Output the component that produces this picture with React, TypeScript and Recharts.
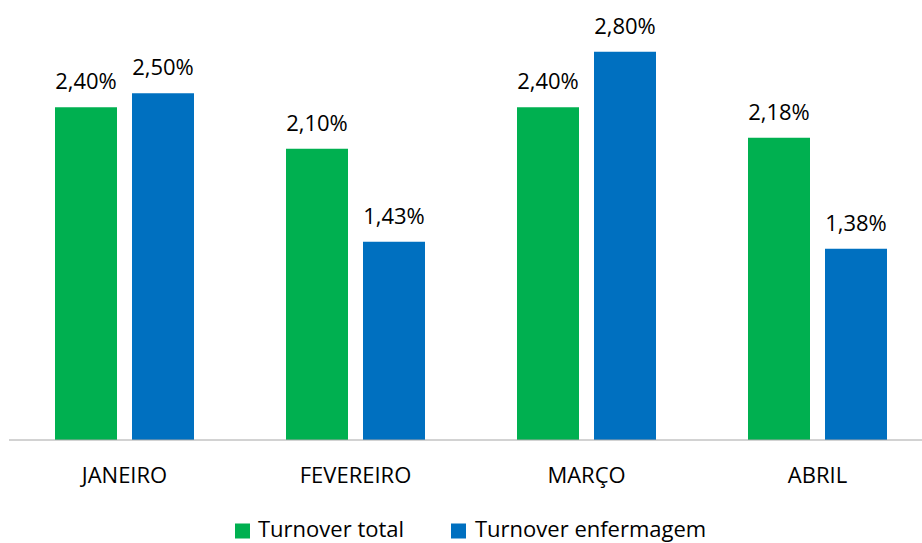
import React from 'react';
import { BarChart, Bar, XAxis, YAxis, LabelList, Legend } from 'recharts';

const months = ['JANEIRO', 'FEVEREIRO', 'MARÇO', 'ABRIL'];
const turnoverTotal = [2.4, 2.1, 2.4, 2.18];
const turnoverEnfermagem = [2.5, 1.43, 2.8, 1.38];
const seriesNames = ['Turnover total', 'Turnover enfermagem'];
const seriesColors = ['#00B050', '#0070C0'];

const data = months.map((m, i) => ({
  month: m,
  total: turnoverTotal[i],
  enf: turnoverEnfermagem[i],
}));

const FONT = '"Open Sans", "Noto Sans", sans-serif';

const fmt = (v: any) => Number(v).toFixed(2).replace('.', ',') + '%';

const LegendContent = () => (
  <svg width={914} height={30} style={{ display: 'block' }}>
    <rect x={227} y={10.5} width={15} height={15} fill={seriesColors[0]} />
    <text x={250} y={23.5} fontFamily={FONT} fontSize={22} fill="#000">{seriesNames[0]}</text>
    <rect x={443} y={10.5} width={15} height={15} fill={seriesColors[1]} />
    <text x={467} y={23.5} fontFamily={FONT} fontSize={22} fill="#000">{seriesNames[1]}</text>
  </svg>
);

export default function App() {
  return (
    <div style={{ width: 914, height: 535, overflow: 'hidden', position: 'absolute', left: 8, top: 8 }}>
      <BarChart
        width={925}
        height={535}
        data={data}
        margin={{ top: 16, right: 0, left: 1, bottom: 43 }}
        barSize={62}
        barGap={15}
      >
        <YAxis hide domain={[0, 3]} />
        <XAxis
          dataKey="month"
          height={60}
          axisLine={{ stroke: '#A6A6A6', strokeWidth: 1 }}
          tickLine={false}
          tickSize={0}
          tickMargin={27}
          tick={{ fontFamily: FONT, fontSize: 22, fill: '#000' }}
          interval={0}
        />
        <Legend
          layout="horizontal"
          verticalAlign="middle"
          align="center"
          wrapperStyle={{ top: 505, left: 0, width: 914, height: 30 }}
          content={() => <LegendContent />}
        />
        <Bar dataKey="total" name={seriesNames[0]} fill={seriesColors[0]} isAnimationActive={false}>
          <LabelList dataKey="total" position="top" offset={18} formatter={fmt} style={{ fontFamily: FONT, fontSize: 22, fill: '#000' }} />
        </Bar>
        <Bar dataKey="enf" name={seriesNames[1]} fill={seriesColors[1]} isAnimationActive={false}>
          <LabelList dataKey="enf" position="top" offset={18} formatter={fmt} style={{ fontFamily: FONT, fontSize: 22, fill: '#000' }} />
        </Bar>
      </BarChart>
    </div>
  );
}
